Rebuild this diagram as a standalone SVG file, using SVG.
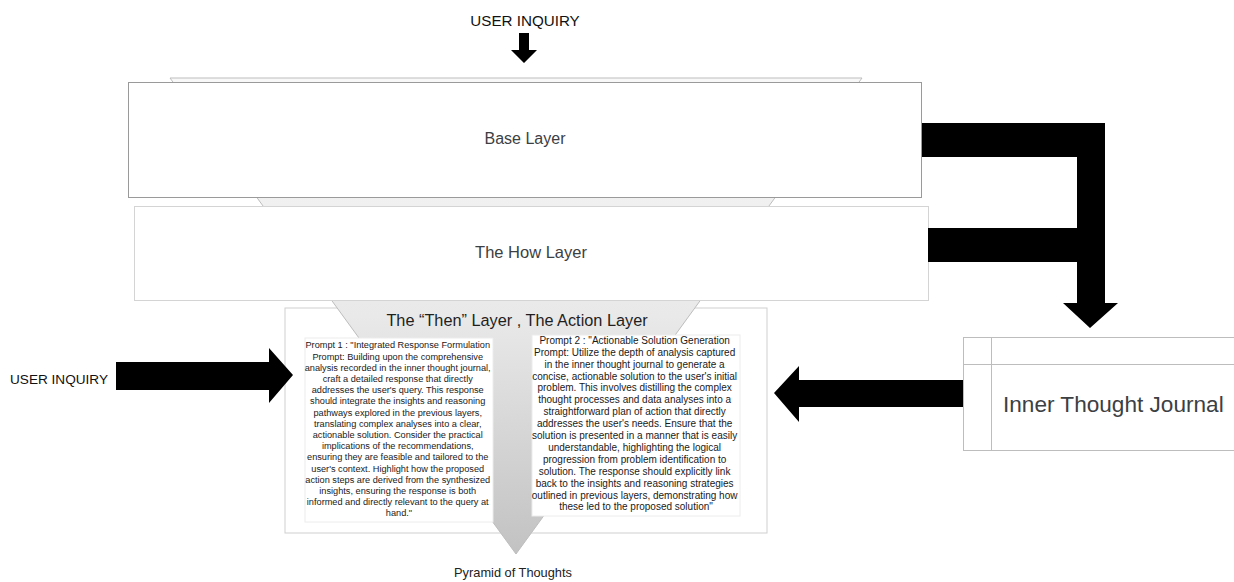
<svg xmlns="http://www.w3.org/2000/svg" width="1234" height="582" viewBox="0 0 1234 582">
<defs>
<linearGradient id="funnelGrad" gradientUnits="userSpaceOnUse" x1="0" y1="78" x2="0" y2="554">
<stop offset="0" stop-color="#f8f8f8"/>
<stop offset="0.5" stop-color="#e9e9e9"/>
<stop offset="1" stop-color="#c2c2c2"/>
</linearGradient>
</defs>
<style>
text{font-family:"Liberation Sans",Arial,sans-serif;}
.layer{fill:#ffffff;stroke:#9a9a9a;stroke-width:1;}
.layer2{fill:#ffffff;stroke:#d4d4d4;stroke-width:1;}
.lbl{font-size:16px;fill:#3c4043;text-anchor:middle;}
.p1{font-size:9.2px;fill:#1a1a1a;text-anchor:middle;}
.p2{font-size:10px;fill:#1a1a1a;text-anchor:middle;}
.arrow{fill:#000000;}
.plain{font-size:13px;fill:#111111;}
</style>
<rect width="1234" height="582" fill="#ffffff"/>

<g id="action-layer">
<rect x="285" y="308" width="482" height="225" fill="#ffffff" stroke="#cfcfcf" stroke-width="1"/>
</g>

<g id="pyramid-funnel">
<polygon points="170,78 862,78 516,554" fill="url(#funnelGrad)" stroke="#bdbdbd" stroke-width="1"/>
</g>

<g id="base-layer">
<rect class="layer" x="128.5" y="82.5" width="793" height="115"/>
<text class="lbl" x="525" y="144">Base Layer</text>
</g>

<g id="how-layer">
<rect class="layer2" x="134.5" y="206.5" width="794" height="94"/>
<text class="lbl" x="531" y="258" style="font-size:16.5px">The How Layer</text>
</g>

<g id="then-layer-title">
<text x="517" y="326" style="font-size:16.3px;fill:#1f1f1f;text-anchor:middle">The “Then” Layer , The Action Layer</text>
</g>

<g id="prompt-1">
<rect x="305" y="338" width="188" height="184" fill="#ffffff" stroke="#ececec" stroke-width="1"/>
<text class="p1">
<tspan x="399" y="348.3">Prompt 1 : "Integrated Response Formulation</tspan>
<tspan x="399" y="359.5">Prompt: Building upon the comprehensive</tspan>
<tspan x="399" y="370.7">analysis recorded in the inner thought journal,</tspan>
<tspan x="399" y="381.9">craft a detailed response that directly</tspan>
<tspan x="399" y="393.1">addresses the user's query. This response</tspan>
<tspan x="399" y="404.3">should integrate the insights and reasoning</tspan>
<tspan x="399" y="415.5">pathways explored in the previous layers,</tspan>
<tspan x="399" y="426.7">translating complex analyses into a clear,</tspan>
<tspan x="399" y="437.9">actionable solution. Consider the practical</tspan>
<tspan x="399" y="449.1">implications of the recommendations,</tspan>
<tspan x="399" y="460.3">ensuring they are feasible and tailored to the</tspan>
<tspan x="399" y="471.5">user's context. Highlight how the proposed</tspan>
<tspan x="399" y="482.7">action steps are derived from the synthesized</tspan>
<tspan x="399" y="493.9">insights, ensuring the response is both</tspan>
<tspan x="399" y="505.1">informed and directly relevant to the query at</tspan>
<tspan x="399" y="516.3">hand."</tspan>
</text>
</g>

<g id="prompt-2">
<rect x="532" y="335" width="208" height="181" fill="#ffffff" stroke="#ececec" stroke-width="1"/>
<text class="p2">
<tspan x="636" y="343.8">Prompt 2 : "Actionable Solution Generation</tspan>
<tspan x="636" y="355.7">Prompt: Utilize the depth of analysis captured</tspan>
<tspan x="636" y="367.6">in the inner thought journal to generate a</tspan>
<tspan x="636" y="379.5">concise, actionable solution to the user's initial</tspan>
<tspan x="636" y="391.4">problem. This involves distilling the complex</tspan>
<tspan x="636" y="403.3">thought processes and data analyses into a</tspan>
<tspan x="636" y="415.2">straightforward plan of action that directly</tspan>
<tspan x="636" y="427.1">addresses the user's needs. Ensure that the</tspan>
<tspan x="636" y="439.0">solution is presented in a manner that is easily</tspan>
<tspan x="636" y="450.9">understandable, highlighting the logical</tspan>
<tspan x="636" y="462.8">progression from problem identification to</tspan>
<tspan x="636" y="474.7">solution. The response should explicitly link</tspan>
<tspan x="636" y="486.6">back to the insights and reasoning strategies</tspan>
<tspan x="636" y="498.5">outlined in previous layers, demonstrating how</tspan>
<tspan x="636" y="510.4">these led to the proposed solution"</tspan>
</text>
</g>

<g id="inner-thought-journal">
<rect x="963.5" y="337.5" width="280" height="113" fill="#ffffff" stroke="#bdbdbd" stroke-width="1"/>
<line x1="991.5" y1="337.5" x2="991.5" y2="450.5" stroke="#bdbdbd" stroke-width="1"/>
<line x1="963.5" y1="364.5" x2="1234" y2="364.5" stroke="#bdbdbd" stroke-width="1"/>
<text x="1003" y="412" style="font-size:22.6px;fill:#3c4043">Inner Thought Journal</text>
</g>

<g id="top-inquiry">
<text class="plain" x="525" y="26" text-anchor="middle" style="font-size:15.2px">USER INQUIRY</text>
</g>

<g id="left-inquiry">
<text class="plain" x="10" y="384" style="font-size:13.6px">USER INQUIRY</text>
</g>

<g id="pyramid-label">
<text x="513" y="577" style="font-size:12.8px;fill:#222222;text-anchor:middle">Pyramid of Thoughts</text>
</g>

<g id="connectors">
<polygon class="arrow" points="519,33 529,33 529,50 537,50 524,63 511,50 519,50"/>
<polygon class="arrow" points="922,123 1105,123 1105,303 1118,303 1090,328 1063,303 1077,303 1077,262 928,262 928,228 1077,228 1077,157 922,157"/>
<polygon class="arrow" points="116,362 269,362 269,348 293,375 269,403 269,390 116,390"/>
<polygon class="arrow" points="963,380 799,380 799,366 774,393 799,422 799,407 963,407"/>
</g>
</svg>
